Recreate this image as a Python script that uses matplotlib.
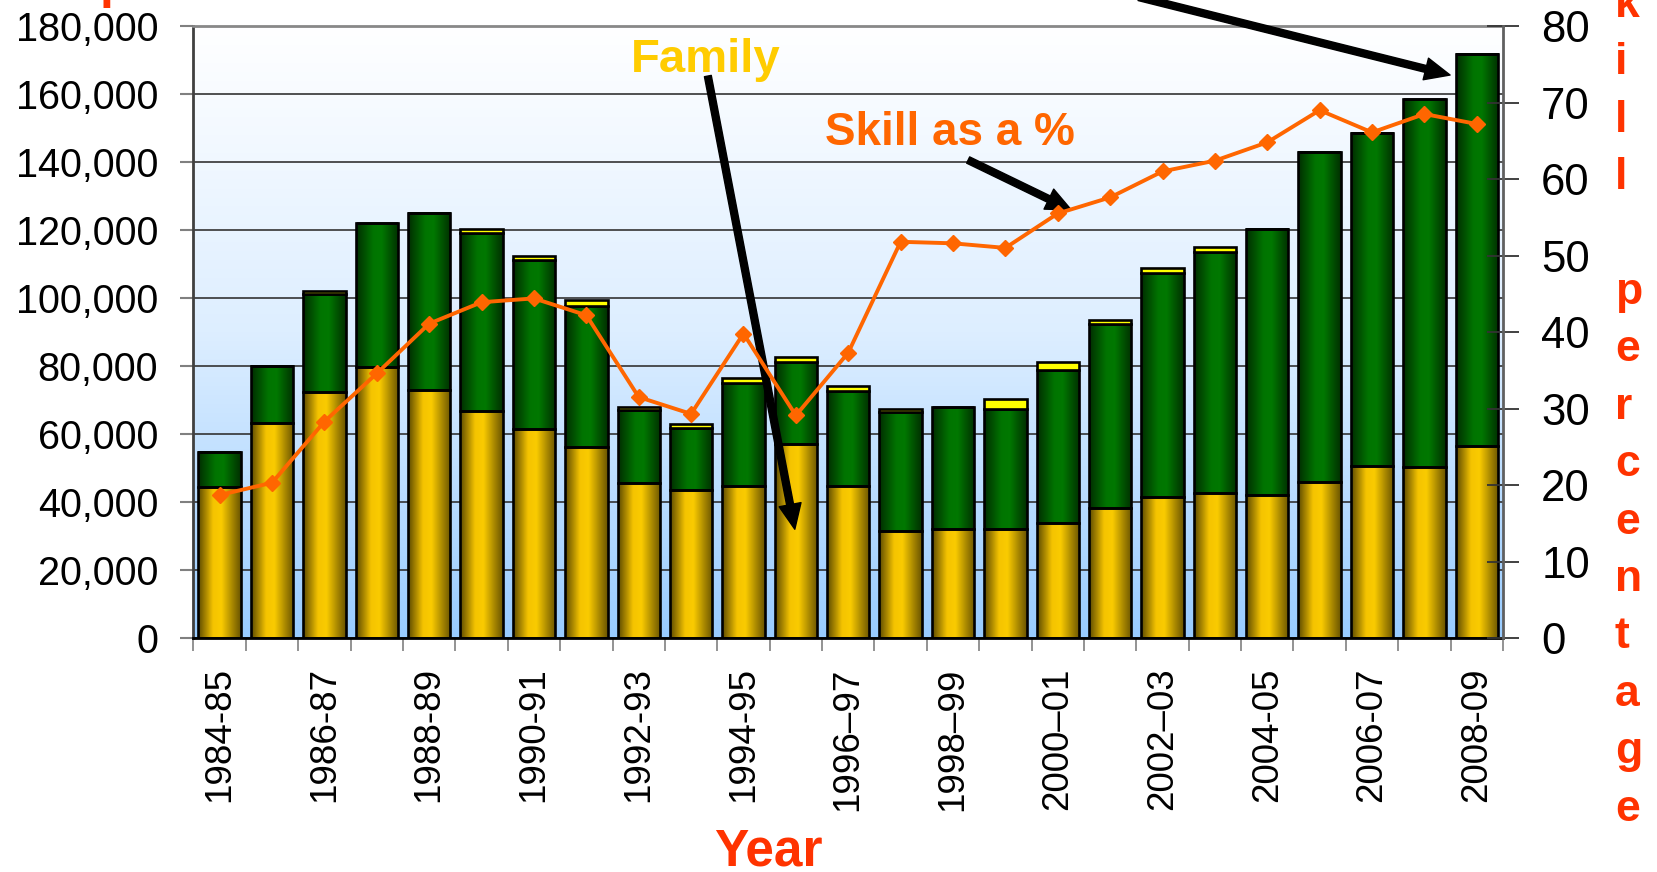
import numpy as np
import matplotlib.pyplot as plt
from matplotlib.colors import LinearSegmentedColormap
from matplotlib.ticker import MultipleLocator, StrMethodFormatter

plt.rcParams['font.family'] = ['Liberation Sans', 'DejaVu Sans']

years = ['1984-85', '1985-86', '1986-87', '1987-88', '1988-89', '1989-90',
         '1990-91', '1991-92', '1992-93', '1993-94', '1994-95', '1995-96',
         '1996–97', '1997–98', '1998–99', '1999–00', '2000–01', '2001–02',
         '2002–03', '2003-04', '2004-05', '2005-06', '2006-07', '2007-08',
         '2008-09']
family = [44500, 63300, 72400, 79800, 72900, 66900, 61600, 56100, 45700, 43500,
          44700, 57100, 44700, 31500, 32100, 32100, 33900, 38300, 41400, 42700,
          42000, 45800, 50500, 50300, 56500]
skill = [10300, 16800, 28800, 42200, 52100, 52300, 49600, 41500, 21400, 18400,
         30200, 24000, 27900, 34900, 35800, 35400, 44800, 54100, 66000, 70900,
         78300, 97200, 98000, 108200, 115300]
other = [0, 0, 900, 0, 0, 1100, 1100, 1800, 900, 1000, 1500, 1700, 1500, 1000,
         0, 2700, 2600, 1000, 1300, 1300, 0, 0, 0, 0, 0]
skill_pct = [18.7, 20.3, 28.3, 34.6, 41.1, 43.9, 44.4, 42.2, 31.5, 29.3, 39.8,
             29.1, 37.3, 51.8, 51.6, 51.0, 55.5, 57.6, 61.0, 62.4, 64.8, 69.0,
             66.1, 68.5, 67.2]

red = '#FF3300'
x = np.arange(len(years))
fam = np.array(family)
sk = np.array(skill)

fig = plt.figure(figsize=(16.58, 8.72), dpi=100)
ax = fig.add_axes([0.1167, 0.2683, 0.7898, 0.7018])

# background: light blue at the bottom fading to white
bg = LinearSegmentedColormap.from_list('bg', ['#99CCFF', '#DDEEFF', '#FFFFFF'])
ax.imshow(np.linspace(0, 1, 256).reshape(-1, 1), extent=[-0.5, 24.5, 0, 180000],
          origin='lower', cmap=bg, aspect='auto', zorder=0)

gold = LinearSegmentedColormap.from_list(
    'gold', [(0, '#5E4B00'), (0.35, '#F5C400'), (0.55, '#FACB00'), (1, '#6B5500')])
green = LinearSegmentedColormap.from_list(
    'green', [(0, '#002E00'), (0.4, '#007400'), (0.6, '#007800'), (1, '#003000')])

w = 0.81
b_fam = ax.bar(x, fam, width=w, facecolor='none', edgecolor='black', lw=1.9, zorder=3)
b_sk = ax.bar(x, sk, bottom=fam, width=w, facecolor='none', edgecolor='black', lw=1.9, zorder=3)
ax.bar(x, other, bottom=fam + sk, width=w, color='#FFFF00', edgecolor='black', lw=1.9, zorder=3)

# cylinder-like shading inside each bar
grad = np.linspace(0, 1, 64).reshape(1, -1)
for bars, cm in [(b_fam, gold), (b_sk, green)]:
    for p in bars:
        x0, y0 = p.get_x(), p.get_y()
        ax.imshow(grad, extent=[x0, x0 + p.get_width(), y0, y0 + p.get_height()],
                  cmap=cm, aspect='auto', zorder=2, interpolation='bicubic')

ax.set_xlim(-0.5, 24.5)
ax.set_ylim(0, 180000)
ax.yaxis.set_major_locator(MultipleLocator(20000))
ax.yaxis.set_major_formatter(StrMethodFormatter('{x:,.0f}'))
ax.yaxis.grid(True, color='#333333', lw=1.2)
ax.set_axisbelow(True)
ax.tick_params(axis='y', direction='out', length=9.5, width=1.5, color='#808080',
               labelsize=28.5, pad=16)

ax.set_xticks(np.arange(-0.5, 25, 1))
ax.set_xticklabels([])
ax.set_xticks(x[::2], minor=True)
ax.set_xticklabels(years[::2], minor=True, rotation=90)
ax.tick_params(axis='x', which='major', direction='out', length=9, width=1.2, color='#808080')
ax.tick_params(axis='x', which='minor', length=0, labelsize=26.5, pad=21)

ax.spines['left'].set_color('#404040')
ax.spines['left'].set_linewidth(2)
ax.spines['bottom'].set_color('black')
ax.spines['bottom'].set_linewidth(2)
ax.spines['top'].set_color('#888888')
ax.spines['top'].set_linewidth(2)
ax.spines['right'].set_visible(False)

ax2 = ax.twinx()
ax2.plot(x, skill_pct, color='#FF6600', lw=2.8, marker='D', ms=8.5, zorder=5)
ax2.set_ylim(0, 80)
ax2.yaxis.set_major_locator(MultipleLocator(10))
ax2.tick_params(axis='y', direction='inout', length=23, width=1.3, color='#333333',
                labelsize=31.5, pad=16)
for s in ['left', 'top', 'bottom']:
    ax2.spines[s].set_visible(False)
ax2.spines['right'].set_color('#606060')
ax2.spines['right'].set_linewidth(2)

# annotations
arrow = dict(facecolor='black', edgecolor='black', width=5, headwidth=16,
             headlength=18, shrink=0)
ax2.text(9.27, 166500, 'Family', transform=ax.transData, color='#FFCC00',
         fontsize=34, fontweight='bold', ha='center', va='baseline', zorder=6)
ax2.annotate('', xy=(10.98, 32000), xytext=(9.32, 165300),
             xycoords=ax.transData, textcoords=ax.transData, arrowprops=arrow)
ax2.text(13.94, 145000, 'Skill as a %', transform=ax.transData, color='#FF6600',
         fontsize=33, fontweight='bold', ha='center', va='baseline', zorder=6)
ax2.annotate('', xy=(16.26, 125900), xytext=(14.29, 140600),
             xycoords=ax.transData, textcoords=ax.transData, arrowprops=arrow)
ax2.annotate('', xy=(23.49, 165600), xytext=(17.55, 188500),
             xycoords=ax.transData, textcoords=ax.transData, arrowprops=arrow,
             annotation_clip=False)

fig.text(768 / 1658, 7 / 872, 'Year', color=red, fontsize=37, fontweight='bold',
         ha='center', va='baseline')
# left axis title is cut off at the top edge in the original
fig.text(100 / 1658, 1 + 2 / 872, 'p', color=red, fontsize=36, fontweight='bold',
         ha='left', va='baseline')

# stacked letters for the right axis title (top letter runs off the edge)
label = 'Skill percentage'
for i, ch in enumerate(label):
    yb = 17 + (i - 1) * 57.4
    fig.text(1615 / 1658, 1 - yb / 872, ch, color=red, fontsize=32,
             fontweight='bold', ha='left', va='baseline')

fig.savefig('out.png', dpi=100)
